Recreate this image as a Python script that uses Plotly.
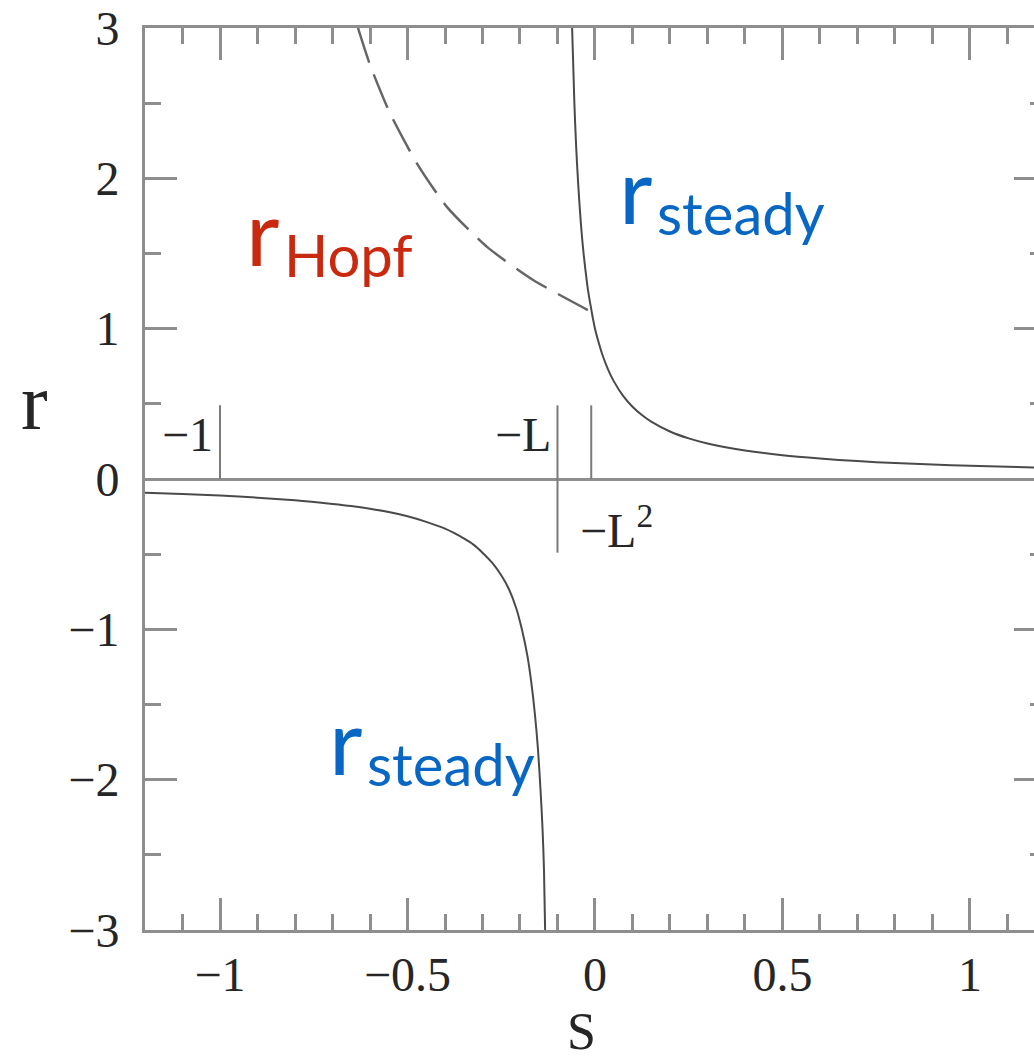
import plotly.graph_objects as go

# Steady branch for S above its pole (r > 0)
s_steady_upper = [-0.061, -0.055, -0.050, -0.045, -0.040, -0.035, -0.030, -0.025, -0.020, -0.015,
                  -0.010, -0.005, 0.000, 0.010, 0.020, 0.035, 0.050, 0.075, 0.100, 0.125,
                  0.150, 0.200, 0.250, 0.300, 0.400, 0.500, 0.600, 0.700, 0.800, 0.900,
                  1.000, 1.100, 1.200]
r_steady_upper = [3.00, 2.50, 2.20, 1.97, 1.78, 1.62, 1.49, 1.38, 1.28, 1.20,
                  1.13, 1.06, 1.00, 0.906, 0.825, 0.728, 0.651, 0.553, 0.481, 0.426,
                  0.382, 0.316, 0.270, 0.236, 0.190, 0.158, 0.136, 0.119, 0.106, 0.096,
                  0.088, 0.081, 0.075]

# Steady branch for S below its pole (r < 0)
s_steady_lower = [-1.20, -1.10, -1.00, -0.90, -0.80, -0.70, -0.65, -0.60, -0.55, -0.50,
                  -0.45, -0.40, -0.375, -0.35, -0.325, -0.30, -0.275, -0.25, -0.23, -0.21,
                  -0.195, -0.18, -0.17, -0.16, -0.152, -0.145, -0.14, -0.136, -0.133]
r_steady_lower = [-0.091, -0.099, -0.110, -0.124, -0.142, -0.166, -0.180, -0.198, -0.220, -0.248,
                  -0.285, -0.330, -0.360, -0.395, -0.435, -0.490, -0.555, -0.640, -0.730, -0.860,
                  -1.00, -1.18, -1.35, -1.57, -1.80, -2.08, -2.32, -2.60, -3.00]

# Hopf boundary (dashed)
s_hopf = [-0.632, -0.600, -0.547, -0.475, -0.395, -0.288, -0.165, -0.019]
r_hopf = [3.00, 2.755, 2.435, 2.10, 1.81, 1.544, 1.324, 1.124]

# Vertical markers at S = -1, -L, -L^2 (L = 0.1)
marker_s = [-1.0, -0.1, -0.01]
marker_r_low = [0.0, -0.49, 0.0]
marker_r_high = [0.49, 0.49, 0.49]

x_tick_vals = [-1, -0.5, 0, 0.5, 1]
x_tick_text = ["\u22121", "\u22120.5", "0", "0.5", "1"]
y_tick_vals = [-3, -2, -1, 0, 1, 2, 3]
y_tick_text = ["\u22123", "\u22122", "\u22121", "0", "1", "2", "3"]

CURVE = "#4a4a4a"
FRAME = "#8e8e8e"
TEXT = "#262626"
RED = "#C9290E"
BLUE = "#0866C4"
SERIF = "Liberation Serif, DejaVu Serif, serif"
SANS = "Lato, Noto Sans, sans-serif"

X_RANGE = [-1.2, 1.1707]
Y_RANGE = [-3, 3]

fig = go.Figure()

fig.add_trace(go.Scatter(
    x=s_steady_upper, y=r_steady_upper, mode="lines",
    line=dict(color=CURVE, width=2, shape="spline", smoothing=0.8),
    hoverinfo="skip", showlegend=False))
fig.add_trace(go.Scatter(
    x=s_steady_lower, y=r_steady_lower, mode="lines",
    line=dict(color=CURVE, width=2, shape="spline", smoothing=0.8),
    hoverinfo="skip", showlegend=False))
fig.add_trace(go.Scatter(
    x=s_hopf, y=r_hopf, mode="lines",
    line=dict(color="#666666", width=2.5, shape="spline", smoothing=0.6, dash="36px,13px"),
    hoverinfo="skip", showlegend=False))

for s, lo, hi in zip(marker_s, marker_r_low, marker_r_high):
    fig.add_trace(go.Scatter(
        x=[s, s], y=[lo, hi], mode="lines",
        line=dict(color="#7a7a7a", width=2),
        hoverinfo="skip", showlegend=False))

# empty trace that carries the right-hand tick axis
fig.add_trace(go.Scatter(x=[None], y=[None], yaxis="y2", mode="lines",
                         hoverinfo="skip", showlegend=False))

fig.update_layout(
    width=1034, height=1062,
    margin=dict(l=145, r=0, t=28, b=132),
    plot_bgcolor="white", paper_bgcolor="white",
    showlegend=False,
    xaxis=dict(
        range=X_RANGE, tickmode="array", tickvals=x_tick_vals, ticktext=x_tick_text,
        ticks="inside", ticklen=32, tickwidth=2.5, tickcolor=FRAME,
        minor=dict(dtick=0.1, tick0=0, ticks="inside", ticklen=16,
                   tickwidth=2.5, tickcolor=FRAME, showgrid=False),
        showline=True, linecolor=FRAME, linewidth=3, mirror="ticks",
        showgrid=False, zeroline=False,
        tickfont=dict(family=SERIF, size=48, color=TEXT),
        ticklabelstandoff=0,
    ),
    yaxis=dict(
        range=Y_RANGE, tickmode="array", tickvals=y_tick_vals, ticktext=y_tick_text,
        ticks="inside", ticklen=32, tickwidth=2.5, tickcolor=FRAME,
        minor=dict(dtick=0.5, tick0=0, ticks="inside", ticklen=16,
                   tickwidth=2.5, tickcolor=FRAME, showgrid=False),
        showline=True, linecolor=FRAME, linewidth=3, mirror=False,
        showgrid=False, zeroline=True, zerolinecolor=FRAME, zerolinewidth=3,
        tickfont=dict(family=SERIF, size=48, color=TEXT),
        ticklabelstandoff=13,
    ),
    yaxis2=dict(
        range=Y_RANGE, overlaying="y", side="right", anchor="x",
        tickmode="array", tickvals=y_tick_vals,
        ticks="inside", ticklen=20, tickwidth=2.5, tickcolor=FRAME,
        minor=dict(dtick=0.5, tick0=0, ticks="inside", ticklen=4,
                   tickwidth=2.5, tickcolor=FRAME, showgrid=False),
        showticklabels=False, showline=False, showgrid=False, zeroline=False,
    ),
)

annotations = []

# axis titles
annotations.append(dict(text="S", xref="x", yref="paper", x=-0.035, y=-0.112,
                        xanchor="center", yanchor="middle", showarrow=False,
                        font=dict(family=SERIF, size=52, color=TEXT)))
annotations.append(dict(text="r", xref="paper", yref="y", x=-0.124, y=0.51,
                        xanchor="center", yanchor="middle", showarrow=False,
                        font=dict(family=SERIF, size=80, color=TEXT)))

# marker labels
annotations.append(dict(text="\u22121", x=-1.013, y=0.293, xanchor="right", yanchor="middle",
                        showarrow=False, font=dict(family=SERIF, size=48, color=TEXT)))
annotations.append(dict(text="\u2212L", x=-0.112, y=0.293, xanchor="right", yanchor="middle",
                        showarrow=False, font=dict(family=SERIF, size=48, color=TEXT)))
annotations.append(dict(text="\u2212L<sup>2</sup>", x=-0.045, y=-0.32, xanchor="left", yanchor="middle",
                        showarrow=False, font=dict(family=SERIF, size=48, color=TEXT)))


def subscripted(label_main, label_sub, s, r, color):
    """Large main letter with a smaller lowered subscript next to it."""
    annotations.append(dict(text=label_main, x=s, y=r, xanchor="right", yanchor="middle",
                            showarrow=False, yshift=6,
                            font=dict(family=SANS, size=92, color=color)))
    annotations.append(dict(text=label_sub, x=s, y=r, xanchor="left", yanchor="middle",
                            showarrow=False, xshift=0, yshift=-18,
                            font=dict(family=SANS, size=58, color=color)))


subscripted("r", "Hopf", -0.835, 1.61, RED)
subscripted("r", "steady", 0.160, 1.89, BLUE)
subscripted("r", "steady", -0.613, -1.77, BLUE)

fig.update_layout(annotations=annotations)

fig.write_html("out.html")
